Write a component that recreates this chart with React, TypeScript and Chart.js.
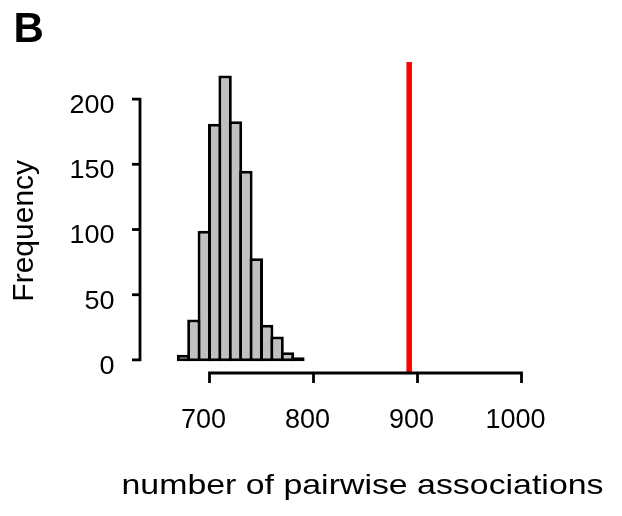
import React, { useEffect, useRef } from "react";
import { Chart, registerables } from "chart.js";

Chart.register(...registerables);

// Histogram bins (left edges) and counts
const BIN_STARTS = [670, 680, 690, 700, 710, 720, 730, 740, 750, 760, 770, 780];
const BIN_WIDTH = 10;
const COUNTS = [4, 31, 99, 181, 218, 183, 145, 78, 27, 18, 6, 2];

// Observed value (red line)
const OBSERVED = 892;

// Axis ticks
const X_TICKS = [700, 800, 900, 1000];
const Y_TICKS = [0, 50, 100, 150, 200];

const PANEL_LABEL = "B";
const X_TITLE = "number of pairwise associations";
const Y_TITLE = "Frequency";

const FONT = '"Liberation Sans", Arial, Helvetica, sans-serif';

const X_MIN = 660;
const X_MAX = 1005;
const Y_MIN = -10;
const Y_MAX = 228.4;

const axesPlugin = {
  id: "rStyleAxes",
  afterDraw(chart: any) {
    const { ctx, chartArea } = chart;
    const xs = chart.scales.x;
    const ys = chart.scales.y;
    ctx.save();
    ctx.strokeStyle = "#000";
    ctx.fillStyle = "#000";
    ctx.lineWidth = 2.8;
    ctx.lineJoin = "miter";
    ctx.lineCap = "butt";

    // Y axis (offset to the left of the plot)
    const axX = 132;
    const tickY = 8;
    const yTop = ys.getPixelForValue(Y_TICKS[Y_TICKS.length - 1]);
    const yBot = ys.getPixelForValue(Y_TICKS[0]);
    ctx.beginPath();
    ctx.moveTo(axX - tickY, yTop);
    ctx.lineTo(axX, yTop);
    ctx.lineTo(axX, yBot);
    ctx.lineTo(axX - tickY, yBot);
    ctx.stroke();
    for (let i = 1; i < Y_TICKS.length - 1; i++) {
      const py = ys.getPixelForValue(Y_TICKS[i]);
      ctx.beginPath();
      ctx.moveTo(axX, py);
      ctx.lineTo(axX - tickY, py);
      ctx.stroke();
    }
    ctx.font = "25px " + FONT;
    ctx.textAlign = "right";
    ctx.textBaseline = "alphabetic";
    for (const t of Y_TICKS) {
      const py = ys.getPixelForValue(t);
      ctx.save();
      ctx.translate(106.5, py + 13.8);
      ctx.scale(1.08, 1);
      ctx.fillText(String(t), 0, 0);
      ctx.restore();
    }

    // X axis (below the plot)
    const axY = chartArea.bottom;
    const tickX = 10;
    const xL = xs.getPixelForValue(X_TICKS[0]);
    const xR = xs.getPixelForValue(X_TICKS[X_TICKS.length - 1]);
    ctx.beginPath();
    ctx.moveTo(xL, axY + tickX);
    ctx.lineTo(xL, axY);
    ctx.lineTo(xR, axY);
    ctx.lineTo(xR, axY + tickX);
    ctx.stroke();
    for (let i = 1; i < X_TICKS.length - 1; i++) {
      const px = xs.getPixelForValue(X_TICKS[i]);
      ctx.beginPath();
      ctx.moveTo(px, axY);
      ctx.lineTo(px, axY + tickX);
      ctx.stroke();
    }
    ctx.font = "27px " + FONT;
    ctx.textAlign = "center";
    for (const t of X_TICKS) {
      const px = xs.getPixelForValue(t);
      ctx.fillText(String(t), px - 6, axY + 55.3);
    }

    // X title
    ctx.font = "28px " + FONT;
    const w = ctx.measureText(X_TITLE).width;
    ctx.save();
    ctx.translate(354.5, 486.3);
    ctx.scale(482 / w, 1);
    ctx.textAlign = "center";
    ctx.fillText(X_TITLE, 0, 0);
    ctx.restore();

    // Y title
    ctx.save();
    ctx.font = "30px " + FONT;
    ctx.translate(25.3, 222.8);
    ctx.rotate(-Math.PI / 2);
    ctx.textAlign = "center";
    ctx.fillText(Y_TITLE, 0, 0);
    ctx.restore();

    // Panel label
    ctx.font = "bold 42px " + FONT;
    ctx.textAlign = "left";
    ctx.fillText(PANEL_LABEL, 5.5, 33.7);

    ctx.restore();
  },
};

export default function App() {
  const ref = useRef<HTMLCanvasElement | null>(null);

  useEffect(() => {
    if (!ref.current) return;
    const barData = BIN_STARTS.map((s, i) => ({ x: s + BIN_WIDTH / 2, y: COUNTS[i] }));
    const chart = new Chart(ref.current, {
      type: "bar",
      data: {
        datasets: [
          {
            type: "bar",
            data: barData,
            backgroundColor: "#c0c0c0",
            borderColor: "#000000",
            borderWidth: 3,
            borderSkipped: false,
            barPercentage: 1.29,
            categoryPercentage: 1,
            base: -1,
            order: 2,
          } as any,
          {
            type: "line",
            data: [
              { x: OBSERVED, y: Y_MIN },
              { x: OBSERVED, y: Y_MAX },
            ],
            borderColor: "#ff0000",
            borderWidth: 5.5,
            pointRadius: 0,
            fill: false,
            order: 1,
          } as any,
        ],
      },
      options: {
        animation: false,
        responsive: false,
        devicePixelRatio: 1,
        layout: { padding: { left: 159.9, right: 87.3, top: 54, bottom: 135 } },
        plugins: {
          legend: { display: false },
          tooltip: { enabled: false },
        },
        scales: {
          x: { type: "linear", min: X_MIN, max: X_MAX, offset: false, display: false },
          y: { type: "linear", min: Y_MIN, max: Y_MAX, display: false },
        },
      },
      plugins: [axesPlugin],
    });
    return () => chart.destroy();
  }, []);

  return <canvas ref={ref} width={606} height={500} style={{ display: "block" }} />;
}
